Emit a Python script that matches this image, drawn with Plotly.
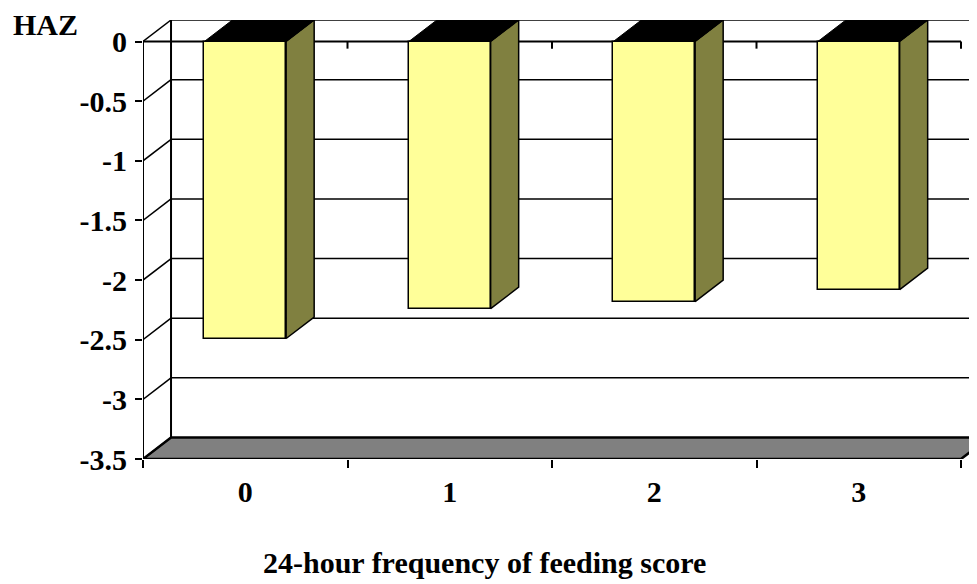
import plotly.graph_objects as go

# data
categories = ["0", "1", "2", "3"]
haz = [-2.49, -2.24, -2.18, -2.08]
ytick_vals = [0, -0.5, -1, -1.5, -2, -2.5, -3, -3.5]
ytick_text = ["0", "-0.5", "-1", "-1.5", "-2", "-2.5", "-3", "-3.5"]
x_title = "24-hour frequency of feeding score"
y_title = "HAZ"

# 3d look (depth offsets in axis units)
DX = 0.137
DY = 0.1802
BW = 0.2  # half bar width
YMIN = -3.5
FONT = "Liberation Serif"
FS = 30

xs = list(range(len(categories)))
x0, x1 = -0.5, len(categories) - 0.5

fig = go.Figure()

# side and top faces of the bars
for x, v in zip(xs, haz):
    fig.add_trace(go.Scatter(
        x=[x + BW, x + BW + DX, x + BW + DX, x + BW, x + BW],
        y=[0, DY, v + DY, v, 0],
        fill="toself", fillcolor="#808040", mode="lines",
        line=dict(color="black", width=1.5), hoverinfo="skip", showlegend=False))
    fig.add_trace(go.Scatter(
        x=[x - BW, x + BW, x + BW + DX, x - BW + DX, x - BW],
        y=[0, 0, DY, DY, 0],
        fill="toself", fillcolor="black", mode="lines",
        line=dict(color="black", width=1), hoverinfo="skip", showlegend=False))

# front faces
fig.add_trace(go.Bar(x=xs, y=haz, width=2 * BW, marker_color="#FFFF99",
                     marker_line=dict(color="black", width=1.5), showlegend=False))

shapes = []
# floor
shapes.append(dict(type="path", layer="below",
                   path=f"M {x0},{YMIN} L {x1},{YMIN} L {x1+DX},{YMIN+DY} L {x0+DX},{YMIN+DY} Z",
                   fillcolor="#808080", line=dict(color="black", width=2.5)))
# back wall gridlines + left wall diagonals
for v in ytick_vals[:-1]:
    shapes.append(dict(type="line", layer="below", x0=x0 + DX, x1=x1 + DX, y0=v + DY, y1=v + DY,
                       line=dict(color="black", width=1.5)))
for v in ytick_vals:
    shapes.append(dict(type="line", layer="below", x0=x0, x1=x0 + DX, y0=v, y1=v + DY,
                       line=dict(color="black", width=1.5)))
# left wall back edge and front axis
shapes.append(dict(type="line", layer="below", x0=x0 + DX, x1=x0 + DX, y0=YMIN + DY, y1=DY,
                   line=dict(color="black", width=2)))
shapes.append(dict(type="line", layer="below", x0=x0, x1=x0, y0=YMIN, y1=0,
                   line=dict(color="black", width=2)))
# category axis at zero with ticks pointing down
shapes.append(dict(type="line", layer="below", x0=x0, x1=x1, y0=0, y1=0,
                   line=dict(color="black", width=2)))
for i in range(len(categories) + 1):
    shapes.append(dict(type="line", layer="below", x0=x0 + i, x1=x0 + i, y0=0, y1=-0.06,
                       line=dict(color="black", width=2)))

fig.update_layout(
    width=969, height=576,
    margin=dict(l=135, r=0, t=12, b=125),
    plot_bgcolor="white", paper_bgcolor="white",
    shapes=shapes,
    bargap=0,
    font=dict(family=FONT, size=FS, color="black", weight="bold"),
    xaxis=dict(range=[x0, x0 + 834 / 204.5], showgrid=False, zeroline=False,
               showline=False, tickvals=[x0 + i for i in range(len(categories) + 1)],
               showticklabels=False, ticks="outside", ticklen=8, tickwidth=2,
               tickcolor="black"),
    xaxis2=dict(overlaying="x", matches="x", side="bottom", anchor="y",
                tickvals=xs, ticktext=categories, ticks="", showgrid=False,
                zeroline=False, ticklabelstandoff=12),
    yaxis=dict(range=[YMIN, DY], showgrid=False, zeroline=False, showline=False,
               tickvals=ytick_vals, ticktext=ytick_text, ticks="outside",
               ticklen=7, tickwidth=1.5, tickcolor="black", ticklabelstandoff=2),
    annotations=[
        dict(text=y_title, xref="paper", yref="paper", x=-0.1175, y=0.99,
             xanchor="center", yanchor="middle", showarrow=False),
        dict(text=x_title, xref="paper", yref="paper", x=0.41, y=-0.235,
             xanchor="center", yanchor="middle", showarrow=False),
    ],
)
fig.add_trace(go.Scatter(x=[None], y=[None], xaxis="x2", showlegend=False))

fig.write_html("out.html")
